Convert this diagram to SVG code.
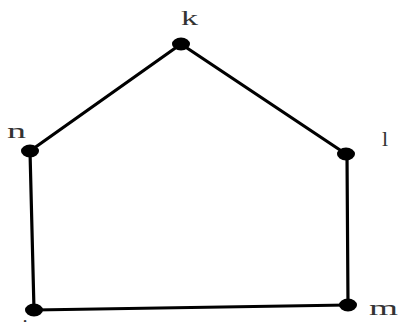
<svg xmlns="http://www.w3.org/2000/svg" width="400" height="322" viewBox="0 0 400 322">
<style>
.e{stroke:#000;stroke-width:3.2;fill:none;stroke-linecap:round}
.d{fill:#000}
.t{font-family:"Liberation Serif","DejaVu Serif",serif;font-size:22px;fill:#333}
</style>
<rect width="400" height="322" fill="#fff"/>
<g id="connectors">
<line class="e" x1="181" y1="44" x2="346" y2="154"/>
<line class="e" x1="181" y1="44" x2="30" y2="151"/>
<line class="e" x1="30" y1="151" x2="34" y2="310"/>
<line class="e" x1="34" y1="310" x2="348" y2="305"/>
<line class="e" x1="348" y1="305" x2="347" y2="154"/>
</g>
<g id="node-k"><ellipse class="d" cx="181" cy="44" rx="9" ry="6.5"/><text class="t" x="181" y="25" textLength="17" lengthAdjust="spacingAndGlyphs">k</text></g>
<g id="node-l"><ellipse class="d" cx="346" cy="154" rx="9" ry="6.5"/><text class="t" x="382" y="146">l</text></g>
<g id="node-m"><ellipse class="d" cx="348" cy="305" rx="9" ry="6.5"/><text class="t" x="369" y="315" textLength="29" lengthAdjust="spacingAndGlyphs">m</text></g>
<g id="node-n"><ellipse class="d" cx="30" cy="151" rx="9" ry="6.5"/><text class="t" x="7" y="138" textLength="19" lengthAdjust="spacingAndGlyphs">n</text></g>
<g id="node-j"><ellipse class="d" cx="34" cy="310" rx="9" ry="6.5"/><text class="t" x="22" y="334">j</text></g>
</svg>
